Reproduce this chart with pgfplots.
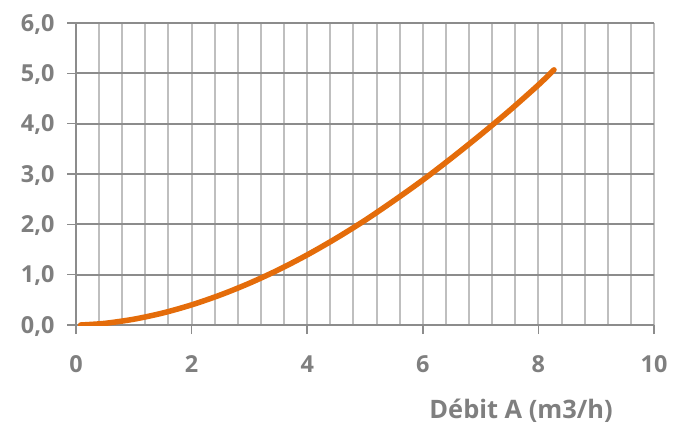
\documentclass[border=0pt]{standalone}
\usepackage{pgfplots}
\pgfplotsset{compat=1.18}
\usepackage{fontspec}
\setmainfont{Open Sans}
\definecolor{txt}{HTML}{7F7F7F}
\definecolor{hgrid}{HTML}{8C8C8C}
\definecolor{vgrid}{HTML}{BFBFBF}
\definecolor{curve}{HTML}{E46C0A}
\begin{document}
\begin{tikzpicture}
\begin{axis}[
  name=ax, scale only axis, width=578bp, height=302bp,
  xmin=0, xmax=10, ymin=0, ymax=6,
  axis lines=left, axis line style={-, draw=hgrid, line width=2bp},
  xtick={0,2,4,6,8,10}, minor x tick num=4, ytick={0,1,2,3,4,5,6},
  tick align=outside, major tick length=9bp, minor tick length=0pt,
  tick style={draw=hgrid, line width=1.5bp},
  xmajorgrids, xminorgrids, ymajorgrids,
  major x grid style={draw=vgrid, line width=2bp},
  minor x grid style={draw=vgrid, line width=2bp},
  major y grid style={draw=hgrid, line width=2bp},
  /pgf/number format/assume math mode=true,
  ticklabel style={font=\fontsize{23.5}{26}\selectfont\bfseries, text=txt},
  xticklabel style={anchor=base, yshift=-38bp},
  yticklabel style={anchor=base east, xshift=-9bp, yshift=-8.2bp},
  xticklabel={\pgfmathprintnumber{\tick}},
  yticklabel={\pgfmathprintnumber[fixed,fixed zerofill,precision=1,use comma]{\tick}},
  xlabel={Débit A (m3/h)},
  xlabel style={at={(rel axis cs:0.77,0)}, anchor=base, yshift=-93bp,
    font=\fontsize{25.5}{28}\selectfont\bfseries, text=txt},
]
\addplot[curve, line width=5.5bp, line cap=round, smooth] coordinates {
(0.08,0.00) (0.5,0.033) (1.0,0.115) (1.5,0.238) (2.0,0.40) (2.5,0.598)
(3.0,0.83) (3.5,1.095) (4.0,1.393) (4.5,1.722) (5.0,2.08) (5.5,2.47)
(6.0,2.88) (6.5,3.32) (7.0,3.78) (7.5,4.26) (8.0,4.77) (8.27,5.07)
};
\end{axis}
\pgfresetboundingbox
\path[use as bounding box] ([shift={(-76bp,-100bp)}]ax.south west) rectangle ([shift={(19bp,23bp)}]ax.north east);
\end{tikzpicture}
\end{document}
